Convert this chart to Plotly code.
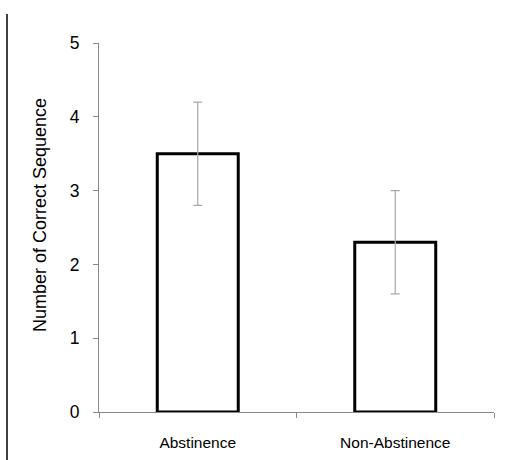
import plotly.graph_objects as go

categories = ["Abstinence", "Non-Abstinence"]
means = [3.5, 2.3]
errors = [0.7, 0.7]
y_ticks = [0, 1, 2, 3, 4, 5]

W, H = 525, 460
L, T = 99, 43
pw, ph = 395, 369
R, B = W - L - pw, H - T - ph

def px_x(x):
    return (x - L) / pw

def px_y(y):
    return (T + ph - y) / ph

fig = go.Figure(go.Bar(
    x=categories, y=means, width=0.41,
    marker=dict(color="white", line=dict(color="black", width=3)),
    error_y=dict(type="data", array=errors, visible=True, color="#a8a8a8", thickness=1.2, width=4.5),
))

font = "Liberation Sans, Arial, sans-serif"
fig.update_layout(
    width=W, height=H, margin=dict(l=L, r=R, t=T, b=B),
    paper_bgcolor="white", plot_bgcolor="white", showlegend=False,
    font=dict(family=font, color="black"),
    xaxis=dict(type="category", tickson="boundaries", ticks="outside", ticklen=5,
               tickcolor="#888", showline=True, linecolor="#888", linewidth=1,
               showgrid=False, tickfont=dict(size=15.5), ticklabelstandoff=16,
               range=[-0.5, 1.5], automargin=False),
    yaxis=dict(range=[0, 5], tickvals=y_ticks, ticks="outside", ticklen=5, tickcolor="#888",
               showline=True, linecolor="#888", linewidth=1, showgrid=False, zeroline=False,
               tickfont=dict(size=17.5), ticklabelstandoff=10, automargin=False),
    annotations=[dict(text="Number of Correct Sequence", textangle=-90, showarrow=False,
                      xref="paper", yref="paper", x=px_x(40), y=px_y(215),
                      xanchor="center", yanchor="middle", font=dict(size=18))],
    shapes=[dict(type="line", xref="paper", yref="paper",
                 x0=px_x(7), x1=px_x(7), y0=px_y(470), y1=px_y(14),
                 line=dict(color="black", width=1.5))],
)

fig.write_html("out.html", config={"displayModeBar": False},
               post_script="document.body.style.margin='0px';document.body.style.overflow='hidden';")
